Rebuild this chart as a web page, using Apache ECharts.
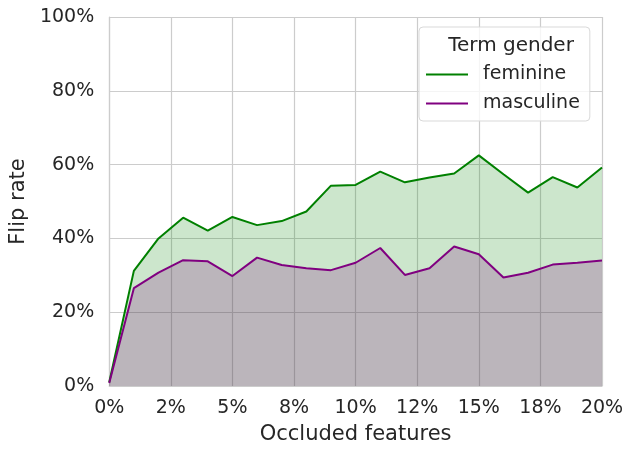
<!DOCTYPE html>
<html>
<head>
<meta charset="utf-8">
<script src="https://cdn.jsdelivr.net/npm/echarts@6/dist/echarts.min.js"></script>
<style>html,body{margin:0;padding:0;background:#fff;}#c{width:633px;height:454px;}</style>
</head>
<body>
<div id="c"></div>
<script>
var occluded = [0,1,2,3,4,5,6,7,8,9,10,11,12,13,14,15,16,17,18,19,20];
var feminine = [1.0,31.2,40.0,45.6,42.1,45.8,43.6,44.7,47.3,54.3,54.5,58.1,55.2,56.5,57.6,62.5,57.4,52.4,56.6,53.8,59.2];
var masculine = [0.8,26.5,30.7,34.1,33.8,29.8,34.8,32.8,31.9,31.4,33.4,37.4,30.1,31.9,37.8,35.7,29.4,30.7,32.9,33.4,34.0];
var xTickLabels = ['0%','2%','5%','8%','10%','12%','15%','18%','20%'];
var yTickLabels = ['0%','20%','40%','60%','80%','100%'];
var seriesNames = ['feminine','masculine'];
var legendTitle = 'Term gender';
var xName = 'Occluded features';
var yName = 'Flip rate';

var FONT = 'DejaVu Sans';
var TXT = '#262626';
var chart = echarts.init(document.getElementById('c'), null, {renderer:'canvas'});
function pairs(vals){ return occluded.map(function(x,i){ return [x, vals[i]]; }); }
chart.setOption({
  animation:false,
  backgroundColor:'#ffffff',
  textStyle:{fontFamily:FONT,color:TXT},
  grid:{left:105,right:31,top:17,bottom:68,containLabel:false},
  title:{text:legendTitle,left:506,top:31,textAlign:'center',
    textStyle:{fontFamily:FONT,fontSize:20,fontWeight:'normal',color:TXT},z:10},
  legend:{
    data:seriesNames,orient:'vertical',left:419,top:27,
    padding:[38,10,8,7],itemGap:10,itemWidth:42,itemHeight:2,icon:'rect',
    backgroundColor:'rgba(255,255,255,0.8)',borderColor:'#d9d9d9',borderWidth:1,borderRadius:4,
    textStyle:{fontFamily:FONT,fontSize:19,color:TXT,padding:[0,0,0,10]}
  },
  xAxis:{
    type:'value',min:0,max:20,interval:2.5,
    name:xName,nameLocation:'middle',nameGap:38,
    nameTextStyle:{fontFamily:FONT,fontSize:21,color:TXT},
    axisLine:{show:true,lineStyle:{color:'#cccccc',width:1.2}},
    axisTick:{show:false},
    axisLabel:{fontFamily:FONT,fontSize:19,color:TXT,margin:13,
      formatter:function(v){return xTickLabels[Math.round(v/2.5)];}},
    splitLine:{show:true,lineStyle:{color:'#cccccc',width:1.2}}
  },
  yAxis:{
    type:'value',min:0,max:100,interval:20,
    name:yName,nameLocation:'middle',nameRotate:90,nameGap:78,
    nameTextStyle:{fontFamily:FONT,fontSize:21,color:TXT},
    axisLine:{show:true,lineStyle:{color:'#cccccc',width:1.2}},
    axisTick:{show:false},
    axisLabel:{fontFamily:FONT,fontSize:19,color:TXT,margin:15,
      formatter:function(v){return yTickLabels[Math.round(v/20)];}},
    splitLine:{show:true,lineStyle:{color:'#cccccc',width:1.2}}
  },
  series:[
    {name:seriesNames[0],type:'line',data:pairs(feminine),symbol:'none',
     itemStyle:{color:'#008000'},lineStyle:{color:'#008000',width:2},
     areaStyle:{color:'#008000',opacity:0.2},z:2},
    {name:seriesNames[1],type:'line',data:pairs(masculine),symbol:'none',
     itemStyle:{color:'#800080'},lineStyle:{color:'#800080',width:2},
     areaStyle:{color:'#800080',opacity:0.21},z:3}
  ]
});
</script>
</body>
</html>
